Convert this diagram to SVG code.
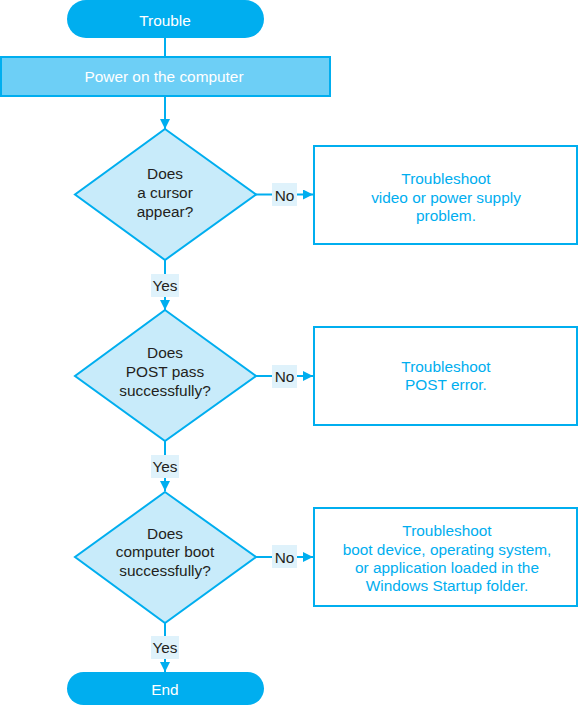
<svg xmlns="http://www.w3.org/2000/svg" width="578" height="705" viewBox="0 0 578 705">
<style>
text{font-family:"Liberation Sans",Arial,sans-serif;font-size:15.4px;text-anchor:middle;dominant-baseline:central}
.pill{fill:#00aeef}
.w{fill:#ffffff}
.d{fill:#c8ebfa;stroke:#00aeef;stroke-width:2}
.dt{fill:#231f20}
.box{fill:#ffffff;stroke:#00aeef;stroke-width:2}
.bt{fill:#00aeef}
.ln{stroke:#00aeef;stroke-width:2;fill:none}
.lb{fill:#dff2fb}
</style>
<defs>
<marker id="ah" viewBox="0 0 10 10" refX="10" refY="5" markerWidth="5" markerHeight="5" orient="auto" markerUnits="strokeWidth">
<path d="M0,0 L10,5 L0,10 z" fill="#00aeef"/>
</marker>
</defs>
<g id="connectors">
<line class="ln" x1="165" y1="38" x2="165" y2="57"/>
<line class="ln" x1="165" y1="96" x2="165" y2="129" marker-end="url(#ah)"/>
<line class="ln" x1="256" y1="194.5" x2="313" y2="194.5" marker-end="url(#ah)"/>
<line class="ln" x1="165" y1="260" x2="165" y2="310" marker-end="url(#ah)"/>
<line class="ln" x1="256" y1="376" x2="313" y2="376" marker-end="url(#ah)"/>
<line class="ln" x1="165" y1="441" x2="165" y2="491" marker-end="url(#ah)"/>
<line class="ln" x1="256" y1="557" x2="313" y2="557" marker-end="url(#ah)"/>
<line class="ln" x1="165" y1="623" x2="165" y2="672" marker-end="url(#ah)"/>
<rect class="lb" x="272" y="183" width="25" height="23"/>
<text class="dt" x="284.5" y="195">No</text>
<rect class="lb" x="272" y="365" width="25" height="23"/>
<text class="dt" x="284.5" y="376.5">No</text>
<rect class="lb" x="272" y="545" width="25" height="23"/>
<text class="dt" x="284.5" y="557">No</text>
<rect class="lb" x="151" y="274" width="28" height="23"/>
<text class="dt" x="165" y="285.5">Yes</text>
<rect class="lb" x="151" y="455" width="28" height="23"/>
<text class="dt" x="165" y="466.5">Yes</text>
<rect class="lb" x="151" y="636" width="28" height="23"/>
<text class="dt" x="165" y="647.5">Yes</text>
</g>
<g id="start">
<rect class="pill" x="67" y="0" width="197" height="38" rx="19"/>
<text class="w" x="165" y="20">Trouble</text>
</g>
<g id="power">
<rect x="1" y="57" width="329" height="39" fill="#6dcff6" stroke="#00aeef" stroke-width="2"/>
<text class="w" x="164" y="76.5">Power on the computer</text>
</g>
<g id="dec1">
<polygon class="d" points="165,129 256,194.5 165,260 75,194.5"/>
<text class="dt" x="165" y="173">Does</text>
<text class="dt" x="165" y="192">a cursor</text>
<text class="dt" x="165" y="211">appear?</text>
</g>
<g id="box1">
<rect class="box" x="314" y="146" width="263" height="98"/>
<text class="bt" x="446" y="178">Troubleshoot</text>
<text class="bt" x="446" y="197">video or power supply</text>
<text class="bt" x="446" y="215">problem.</text>
</g>
<g id="dec2">
<polygon class="d" points="165,310 256,376 165,441 75,376"/>
<text class="dt" x="165" y="352">Does</text>
<text class="dt" x="165" y="371">POST pass</text>
<text class="dt" x="165" y="390">successfully?</text>
</g>
<g id="box2">
<rect class="box" x="314" y="327" width="263" height="98"/>
<text class="bt" x="446" y="366">Troubleshoot</text>
<text class="bt" x="446" y="384">POST error.</text>
</g>
<g id="dec3">
<polygon class="d" points="165,492 256,557 165,623 75,557"/>
<text class="dt" x="165" y="533">Does</text>
<text class="dt" x="165" y="551.5">computer boot</text>
<text class="dt" x="165" y="570">successfully?</text>
</g>
<g id="box3">
<rect class="box" x="314" y="508" width="263" height="98"/>
<text class="bt" x="447" y="530">Troubleshoot</text>
<text class="bt" x="447" y="549">boot device, operating system,</text>
<text class="bt" x="447" y="567">or application loaded in the</text>
<text class="bt" x="447" y="585">Windows Startup folder.</text>
</g>
<g id="end">
<rect class="pill" x="67" y="672" width="197" height="33" rx="16.5"/>
<text class="w" x="165" y="689">End</text>
</g>
</svg>
